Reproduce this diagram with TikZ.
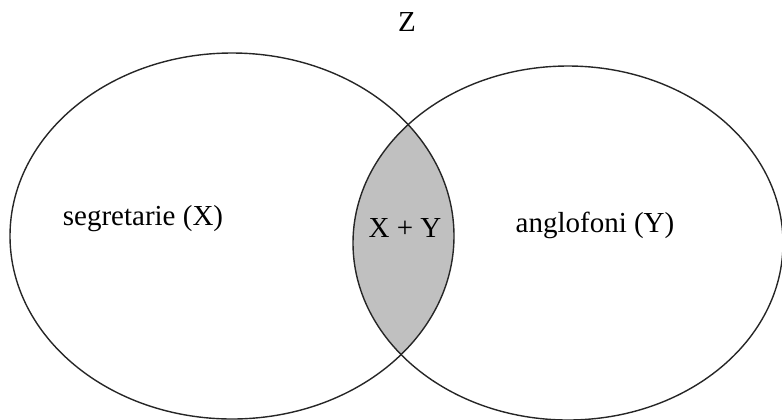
\documentclass[tikz,border=0pt]{standalone}
\usepackage{fontspec}
\setmainfont{Liberation Serif}
\definecolor{grigiolente}{RGB}{192,192,192}
\tikzset{
  insieme/.style   = {draw=black!85, line width=0.7pt},
  etichetta/.style = {font=\fontsize{14.5}{17}\selectfont, inner sep=0pt},
}
\begin{document}
\begin{tikzpicture}[x=0.5pt,y=-0.5pt]
  \useasboundingbox (0,0) rectangle (782,419);
  \coordinate (cx) at (232,236);
  \coordinate (cy) at (568,243);

  % intersezione
  \begin{scope}
    \clip (cx) ellipse [x radius=222, y radius=183];
    \fill[grigiolente] (cy) ellipse [x radius=215, y radius=177];
  \end{scope}

  \draw[insieme] (cx) ellipse [x radius=222, y radius=183];
  \draw[insieme] (cy) ellipse [x radius=215, y radius=177];

  \node[etichetta] (z)   at (407,22)  {Z};
  \node[etichetta] (seg) at (143,219) {segretarie (X)};
  \node[etichetta] (xy)  at (405,228) {X + Y};
  \node[etichetta] (ang) at (595,225) {anglofoni (Y)};
\end{tikzpicture}
\end{document}
